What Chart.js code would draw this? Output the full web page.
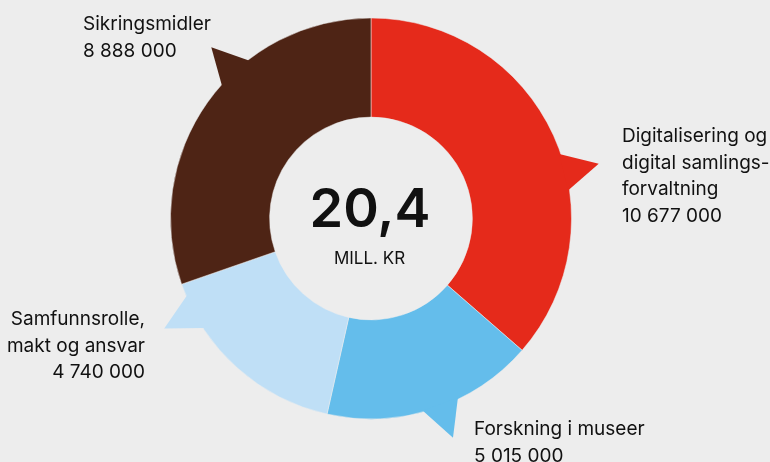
<!DOCTYPE html>
<html>
<head>
<meta charset="utf-8">
<script src="https://cdn.jsdelivr.net/npm/chart.js@4.4.1/dist/chart.umd.min.js"></script>
<style>
    html, body { margin: 0; padding: 0; background: #ededed; }
    #wrap { width: 770px; height: 462px; position: relative; }
</style>
</head>
<body>
<div id="wrap"><canvas id="chartBudget"></canvas></div>
<script>
// Fordeling av midler — smultringdiagram med "snakkeboble"-tagger

const categories = [
    ['Digitalisering og', 'digital samlings-', 'forvaltning'],
    ['Forskning i museer'],
    ['Samfunnsrolle,', 'makt og ansvar'],
    ['Sikringsmidler']
];
const amounts = [10677000, 5015000, 4740000, 8888000];
const totalLabel = '20,4';
const unitLabel = 'MILL. KR';

// Farger per kategori
const COLORS = ['#e52a1b', '#64bdeb', '#bfdff6', '#4e2415'];

// Tagg-vinkel (grader, med klokka fra toppen) og etikettplassering
const TAIL_ANGLES = [76.5, 159.5, 242, 317];
const LABEL_POS = [
    { x: 622, y: 142, align: 'left' },
    { x: 474, y: 435, align: 'left' },
    { x: 145, y: 325, align: 'right' },
    { x: 83,  y: 30,  align: 'left' }
];
const LINE_H = 26.7;
const FONT = 'Inter, "Liberation Sans", sans-serif';

const fmt = n => String(n).replace(/\B(?=(\d{3})+(?!\d))/g, ' ');

const toXY = (cx, cy, r, deg) => {
    const a = (deg - 90) * Math.PI / 180;
    return [cx + r * Math.cos(a), cy + r * Math.sin(a)];
};

// Tegner taggene oppå buene, og tekstene til slutt
const tailPlugin = {
    id: 'tails',
    afterDatasetsDraw(chart) {
        const ctx = chart.ctx;
        chart.getDatasetMeta(0).data.forEach((arc, i) => {
            const { x, y, outerRadius } = arc.getProps(['x', 'y', 'outerRadius'], true);
            const a = TAIL_ANGLES[i];
            const p1 = toXY(x, y, outerRadius - 1.5, a - 5.4);
            const p2 = toXY(x, y, outerRadius * 1.168, a);
            const p3 = toXY(x, y, outerRadius - 1.5, a + 5.4);
            ctx.save();
            ctx.fillStyle = COLORS[i];
            ctx.beginPath();
            ctx.moveTo(p1[0], p1[1]);
            ctx.lineTo(p2[0], p2[1]);
            ctx.lineTo(p3[0], p3[1]);
            ctx.closePath();
            ctx.fill();
            ctx.restore();
        });
    },
    afterDraw(chart) {
        const ctx = chart.ctx;
        const meta = chart.getDatasetMeta(0);
        const cx = meta.data[0].x, cy = meta.data[0].y;
        ctx.save();
        ctx.fillStyle = '#111111';
        ctx.textBaseline = 'alphabetic';

        // Tekst i midten
        ctx.textAlign = 'center';
        ctx.font = '600 54px ' + FONT;
        ctx.fillText(totalLabel, cx - 1, cy + 8.5);
        ctx.font = '17px ' + FONT;
        ctx.fillText(unitLabel, cx - 1.5, cy + 45.5);

        // Etiketter
        ctx.font = '19px ' + FONT;
        categories.forEach((lines, i) => {
            const pos = LABEL_POS[i];
            ctx.textAlign = pos.align;
            lines.concat([fmt(amounts[i])]).forEach((t, j) => {
                ctx.fillText(t, pos.x, pos.y + j * LINE_H);
            });
        });
        ctx.restore();
    }
};

new Chart(document.getElementById('chartBudget'), {
    type: 'doughnut',
    data: {
        labels: categories.map(c => c.join(' ')),
        datasets: [{
            data: amounts,
            backgroundColor: COLORS,
            borderColor: '#ededed',
            borderWidth: 0.5,
            hoverOffset: 0
        }]
    },
    options: {
        responsive: true,
        maintainAspectRatio: false,
        animation: false,
        radius: 200.5,
        cutout: 101,
        layout: { padding: { left: 171, right: 199, top: 18.5, bottom: 43.5 } },
        plugins: {
            legend: { display: false },
            tooltip: { enabled: false }
        }
    },
    plugins: [tailPlugin]
});
</script>
</body>
</html>
